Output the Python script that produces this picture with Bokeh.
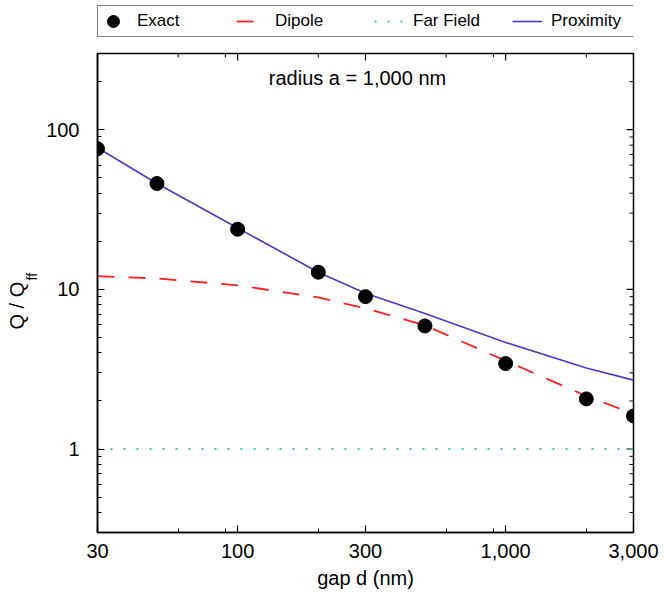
import math
from bokeh.plotting import figure
from bokeh.layouts import column
from bokeh.models import (Range1d, FixedTicker, NumeralTickFormatter,
                          Legend, LegendItem, Label, Title)
from bokeh.embed import file_html
from bokeh.resources import INLINE

# ---- data ----
gap_nm = [30, 50, 100, 200, 300, 500, 1000, 2000, 3000]
exact = [76, 46, 23.8, 12.8, 9.0, 5.9, 3.43, 2.06, 1.61]
dipole = [12.1, 11.7, 10.6, 8.9, 7.6, 5.95, 3.57, 2.15, 1.66]
proximity = [77, 46, 24.2, 12.8, 9.45, 7.05, 4.65, 3.22, 2.7]
far_field_gap = [30, 3000]
far_field = [1.0, 1.0]

x_major = [30, 100, 300, 1000, 3000]
x_minor = [60, 90, 200, 600, 900, 2000]
y_major = [1, 10, 100]
y_minor = [0.3, 0.4, 0.5, 0.6, 0.7, 0.8, 0.9, 2, 3, 4, 5, 6, 7, 8, 9,
           20, 30, 40, 50, 60, 70, 80, 90, 200, 300]

FONT = "Liberation Sans"
X0, X1 = 30, 3000
Y0, Y1 = 0.3, 300

STY_FF = dict(line_color="#33cc99", line_width=2, line_dash="2 11")
STY_DIP = dict(line_color="#ff2020", line_width=1.8, line_dash="17 14")
STY_PROX = dict(line_color="#5535c8", line_width=1.6)
STY_EX = dict(size=14, fill_color="black", line_color="black")

# ---------------- main plot ----------------
p = figure(width=664, height=554, x_axis_type="log", y_axis_type="log",
           x_range=Range1d(X0, X1), y_range=Range1d(Y0, Y1),
           output_backend="svg", toolbar_location=None,
           min_border_left=97, min_border_right=31,
           min_border_top=8, min_border_bottom=67)
p.grid.visible = False
p.outline_line_color = "black"
p.outline_line_width = 1.5
p.background_fill_color = "white"
p.border_fill_color = "white"


def style(ax):
    ax.major_tick_in = 7
    ax.major_tick_out = 0
    ax.minor_tick_in = 4
    ax.minor_tick_out = 0
    ax.axis_line_color = "black"
    ax.axis_line_width = 1.5
    ax.major_tick_line_color = "black"
    ax.minor_tick_line_color = "black"
    ax.major_tick_line_width = 1.2
    ax.minor_tick_line_width = 1.0
    ax.major_label_text_font = FONT
    ax.major_label_text_font_size = "20px"
    ax.major_label_text_color = "black"


xa = p.xaxis[0]
xa.ticker = FixedTicker(ticks=x_major, minor_ticks=x_minor)
xa.formatter = NumeralTickFormatter(format="0,0")
style(xa)
xa.major_label_standoff = 11
xa.axis_label = "gap d (nm)"
xa.axis_label_text_font = FONT
xa.axis_label_text_font_size = "20px"
xa.axis_label_text_font_style = "normal"
xa.axis_label_text_color = "black"
xa.axis_label_standoff = 6

ya = p.yaxis[0]
ya.ticker = FixedTicker(ticks=y_major, minor_ticks=y_minor)
ya.formatter = NumeralTickFormatter(format="0,0")
style(ya)
ya.major_label_standoff = 18

# mirrored inward tick marks on the top and right frame edges
p.scatter(x_major, [Y1] * len(x_major), marker="dash", size=14, angle=math.pi / 2,
          line_color="black", line_width=1.2)
p.scatter(x_minor, [Y1] * len(x_minor), marker="dash", size=8, angle=math.pi / 2,
          line_color="black", line_width=1.0)
p.scatter([X1] * len(y_major), y_major, marker="dash", size=14,
          line_color="black", line_width=1.2)
p.scatter([X1] * len(y_minor), y_minor, marker="dash", size=8,
          line_color="black", line_width=1.0)

# ---- series ----
p.line(far_field_gap, far_field, **STY_FF)
p.line(gap_nm, dipole, **STY_DIP)
p.line(gap_nm, proximity, **STY_PROX)
p.scatter(gap_nm, exact, **STY_EX)

# ---- texts ----
p.add_layout(Label(x=300, y=210, x_offset=-8, text="radius a = 1,000 nm",
                   text_align="center", text_baseline="middle",
                   text_font=FONT, text_font_size="20px", text_color="black"))
p.add_layout(Title(text="ff", align="left", offset=252, standoff=7,
                   vertical_align="bottom",
                   text_font=FONT, text_font_size="14px",
                   text_font_style="normal", text_color="black"), "left")
p.add_layout(Title(text="Q / Q", align="left", offset=203, standoff=-19,
                   vertical_align="bottom",
                   text_font=FONT, text_font_size="20px",
                   text_font_style="normal", text_color="black"), "left")

# ---------------- legend strip above the plot ----------------
lg = figure(width=664, height=45, x_range=Range1d(0, 1), y_range=Range1d(0, 1),
            output_backend="svg", toolbar_location=None,
            x_axis_location=None, y_axis_location=None,
            min_border_left=97, min_border_right=31,
            min_border_top=0, min_border_bottom=0)
lg.grid.visible = False
lg.outline_line_color = None
# same series drawn in this strip only to key the legend (they fall outside its view)
r_ex = lg.scatter(gap_nm, exact, **STY_EX)
r_dip = lg.line(gap_nm, dipole, **STY_DIP)
r_ff = lg.line(far_field_gap, far_field, **STY_FF)
r_prox = lg.line(gap_nm, proximity, **STY_PROX)

legend = Legend(items=[LegendItem(label="Exact", renderers=[r_ex]),
                       LegendItem(label="Dipole", renderers=[r_dip]),
                       LegendItem(label="Far Field", renderers=[r_ff]),
                       LegendItem(label="Proximity", renderers=[r_prox])],
                orientation="horizontal", location=(0, 8), margin=0,
                padding=0, spacing=15, glyph_width=30, glyph_height=30,
                label_standoff=9, label_width=84, label_text_font=FONT,
                label_text_font_size="17px", label_text_color="black",
                border_line_color="black", border_line_width=1.5,
                background_fill_color="white", background_fill_alpha=1.0)
lg.add_layout(legend)

open("out.html", "w").write(file_html(column(lg, p, spacing=0), INLINE))
